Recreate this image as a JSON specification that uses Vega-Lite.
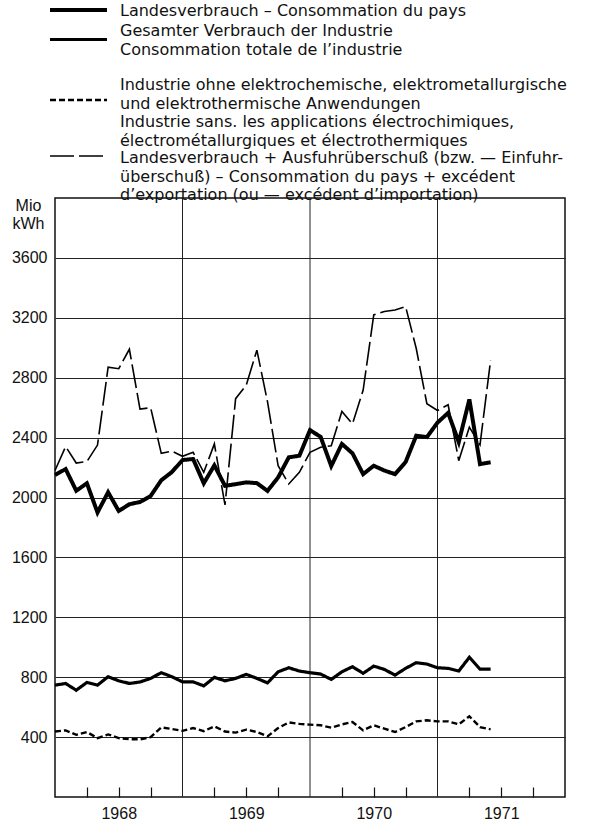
{
  "$schema": "https://vega.github.io/schema/vega-lite/v6.json",
  "width": 510,
  "height": 599,
  "autosize": {"type": "none"},
  "padding": {"left": 55, "top": 198, "right": 28, "bottom": 28},
  "background": "white",
  "config": {
    "view": {"stroke": "#111", "strokeWidth": 1.5},
    "font": "Liberation Sans"
  },
  "datasets": {
    "years": [{"m": 12}, {"m": 24}, {"m": 36}],
    "monthly": [
      {"m": 0, "A": 2150, "B": 747, "C": 437, "D": 2180},
      {"m": 1, "A": 2190, "B": 758, "C": 445, "D": 2340},
      {"m": 2, "A": 2045, "B": 713, "C": 415, "D": 2230},
      {"m": 3, "A": 2095, "B": 765, "C": 434, "D": 2240},
      {"m": 4, "A": 1900, "B": 747, "C": 393, "D": 2350},
      {"m": 5, "A": 2035, "B": 803, "C": 418, "D": 2870},
      {"m": 6, "A": 1910, "B": 776, "C": 393, "D": 2860},
      {"m": 7, "A": 1955, "B": 758, "C": 386, "D": 2990},
      {"m": 8, "A": 1970, "B": 768, "C": 385, "D": 2590},
      {"m": 9, "A": 2010, "B": 792, "C": 400, "D": 2600},
      {"m": 10, "A": 2115, "B": 830, "C": 465, "D": 2295},
      {"m": 11, "A": 2170, "B": 803, "C": 454, "D": 2310},
      {"m": 12, "A": 2250, "B": 769, "C": 442, "D": 2275},
      {"m": 13, "A": 2257, "B": 769, "C": 460, "D": 2302},
      {"m": 14, "A": 2095, "B": 742, "C": 440, "D": 2168},
      {"m": 15, "A": 2215, "B": 799, "C": 472, "D": 2358},
      {"m": 16, "A": 2078, "B": 776, "C": 437, "D": 1950},
      {"m": 17, "A": 2089, "B": 792, "C": 430, "D": 2660},
      {"m": 18, "A": 2101, "B": 819, "C": 450, "D": 2750},
      {"m": 19, "A": 2096, "B": 792, "C": 434, "D": 2984},
      {"m": 20, "A": 2044, "B": 762, "C": 405, "D": 2640},
      {"m": 21, "A": 2134, "B": 836, "C": 460, "D": 2212},
      {"m": 22, "A": 2268, "B": 863, "C": 498, "D": 2090},
      {"m": 23, "A": 2279, "B": 841, "C": 488, "D": 2168},
      {"m": 24, "A": 2450, "B": 830, "C": 483, "D": 2302},
      {"m": 25, "A": 2405, "B": 821, "C": 479, "D": 2335},
      {"m": 26, "A": 2210, "B": 785, "C": 463, "D": 2346},
      {"m": 27, "A": 2358, "B": 836, "C": 485, "D": 2575},
      {"m": 28, "A": 2295, "B": 870, "C": 501, "D": 2492},
      {"m": 29, "A": 2156, "B": 826, "C": 445, "D": 2716},
      {"m": 30, "A": 2212, "B": 874, "C": 479, "D": 3219},
      {"m": 31, "A": 2180, "B": 852, "C": 456, "D": 3242},
      {"m": 32, "A": 2156, "B": 814, "C": 434, "D": 3252},
      {"m": 33, "A": 2237, "B": 859, "C": 467, "D": 3275},
      {"m": 34, "A": 2413, "B": 897, "C": 505, "D": 2995},
      {"m": 35, "A": 2403, "B": 888, "C": 512, "D": 2626},
      {"m": 36, "A": 2500, "B": 863, "C": 505, "D": 2581},
      {"m": 37, "A": 2565, "B": 859, "C": 505, "D": 2619},
      {"m": 38, "A": 2370, "B": 841, "C": 485, "D": 2246},
      {"m": 39, "A": 2655, "B": 933, "C": 539, "D": 2470},
      {"m": 40, "A": 2223, "B": 854, "C": 467, "D": 2352},
      {"m": 41, "A": 2235, "B": 854, "C": 452, "D": 2917}
    ]
  },
  "encoding": {
    "x": {
      "field": "m",
      "type": "quantitative",
      "scale": {"domain": [0, 48], "nice": false, "zero": false},
      "axis": {
        "title": null,
        "values": [3, 6, 9, 15, 18, 21, 27, 30, 33, 39, 42, 45],
        "labelExpr": "datum.value % 12 == 6 ? '' + (1968 + floor(datum.value / 12)) : ''",
        "grid": false,
        "domain": false,
        "tickSize": -10,
        "tickColor": "#111",
        "tickWidth": 1.2,
        "labelPadding": 18,
        "labelFontSize": 16,
        "labelColor": "#111",
        "labelOverlap": false,
        "labelFlush": false
      }
    }
  },
  "layer": [
    {
      "data": {"name": "years"},
      "mark": {"type": "rule", "color": "#222", "strokeWidth": 1}
    },
    {
      "data": {"name": "monthly"},
      "transform": [{"fold": ["A", "B", "C", "D"], "as": ["s", "v"]}],
      "mark": {"type": "line", "color": "#000"},
      "encoding": {
        "y": {
          "field": "v",
          "type": "quantitative",
          "scale": {"domain": [0, 4000], "nice": false},
          "axis": {
            "values": [400, 800, 1200, 1600, 2000, 2400, 2800, 3200, 3600],
            "format": "d",
            "grid": true,
            "gridColor": "#222",
            "gridWidth": 1,
            "ticks": false,
            "domain": false,
            "labelPadding": 8,
            "labelFontSize": 16,
            "labelColor": "#111",
            "title": ["Mio", "kWh"],
            "titleAngle": 0,
            "titleAlign": "center",
            "titleBaseline": "top",
            "titleX": -27,
            "titleY": -1,
            "titleFontSize": 16,
            "titleFontWeight": "normal",
            "titleColor": "#111",
            "titleLineHeight": 18
          }
        },
        "strokeWidth": {
          "field": "s",
          "type": "nominal",
          "scale": {"domain": ["A", "B", "C", "D"], "range": [4, 1.6, 2, 1.6]},
          "legend": {
            "orient": "none",
            "legendX": -5,
            "legendY": -190,
            "direction": "vertical",
            "title": null,
            "padding": 0,
            "rowPadding": 1,
            "labelOffset": 33.5,
            "symbolOffset": 20.5,
            "labelLimit": 0,
            "labelFont": "DejaVu Sans",
            "labelFontSize": 16,
            "labelColor": "#111",
            "labelBaseline": "alphabetic",
            "symbolType": "M-5.7,0H5.7",
            "symbolSize": 100,
            "symbolStrokeColor": "#000",
            "symbolFillColor": "transparent",
            "encode": {
              "labels": {"update": {"lineHeight": {"signal": "datum.value == 'A' ? 3 : 18.5"}}},
              "symbols": {"update": {"y": {"signal": "datum.value == 'B' ? 11.5 : datum.value == 'C' ? 18 : datum.value == 'D' ? 1 : 2"}}}
            },
            "labelExpr": "datum.value == 'A' ? ['Landesverbrauch – Consommation du pays', ''] : datum.value == 'B' ? ['Gesamter Verbrauch der Industrie', 'Consommation totale de l’industrie', ''] : datum.value == 'C' ? ['Industrie ohne elektrochemische, elektrometallurgische', 'und elektrothermische Anwendungen', 'Industrie sans. les applications électrochimiques,', 'électrométallurgiques et électrothermiques'] : ['Landesverbrauch + Ausfuhrüberschuß (bzw. — Einfuhr-', 'überschuß) – Consommation du pays + excédent', 'd’exportation (ou — excédent d’importation)']"
          }
        },
        "strokeDash": {
          "field": "s",
          "type": "nominal",
          "scale": {"domain": ["A", "B", "C", "D"], "range": [[1, 0], [1, 0], [6, 3], [24, 5]]},
          "legend": {
            "orient": "none",
            "legendX": -5,
            "legendY": -190,
            "direction": "vertical",
            "title": null,
            "padding": 0,
            "rowPadding": 1,
            "labelOffset": 33.5,
            "symbolOffset": 20.5,
            "labelLimit": 0,
            "labelFont": "DejaVu Sans",
            "labelFontSize": 16,
            "labelColor": "#111",
            "labelBaseline": "alphabetic",
            "symbolType": "M-5.7,0H5.7",
            "symbolSize": 100,
            "symbolStrokeColor": "#000",
            "symbolFillColor": "transparent",
            "encode": {
              "labels": {"update": {"lineHeight": {"signal": "datum.value == 'A' ? 3 : 18.5"}}},
              "symbols": {"update": {"y": {"signal": "datum.value == 'B' ? 11.5 : datum.value == 'C' ? 18 : datum.value == 'D' ? 1 : 2"}}}
            },
            "labelExpr": "datum.value == 'A' ? ['Landesverbrauch – Consommation du pays', ''] : datum.value == 'B' ? ['Gesamter Verbrauch der Industrie', 'Consommation totale de l’industrie', ''] : datum.value == 'C' ? ['Industrie ohne elektrochemische, elektrometallurgische', 'und elektrothermische Anwendungen', 'Industrie sans. les applications électrochimiques,', 'électrométallurgiques et électrothermiques'] : ['Landesverbrauch + Ausfuhrüberschuß (bzw. — Einfuhr-', 'überschuß) – Consommation du pays + excédent', 'd’exportation (ou — excédent d’importation)']"
          }
        }
      }
    }
  ]
}
